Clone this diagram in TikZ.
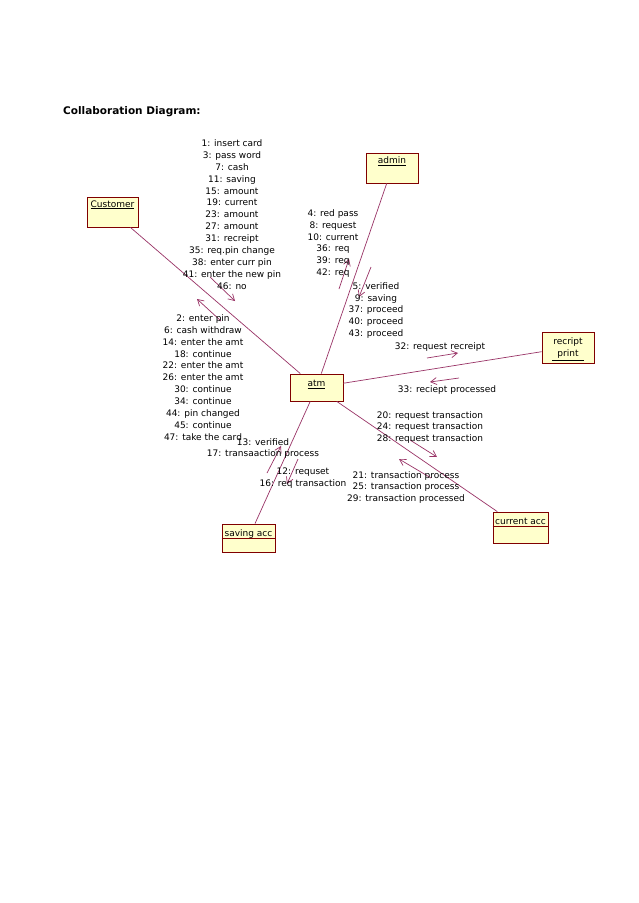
\documentclass[tikz,border=0pt]{standalone}
\usepackage{fontspec}
\setmainfont{DejaVu Sans}
\usepackage{tikz}
\usetikzlibrary{arrows.meta, calc, positioning}
\definecolor{linkred}{HTML}{993366}
\definecolor{boxred}{HTML}{800000}
\definecolor{boxfill}{HTML}{FFFFCC}
\tikzset{
  obj/.style={draw=boxred, fill=boxfill, line width=0.8pt, inner sep=0pt},
  link/.style={draw=linkred, line width=0.7pt},
  msg/.style={draw=linkred, line width=0.7pt, -{Straight Barb[length=6pt,width=7pt]}},
  msgtext/.style={align=center, inner sep=0pt, font=\fontsize{9}{11.9}\selectfont},
  objtext/.style={anchor=base, inner sep=0pt, font=\fontsize{9}{11}\selectfont}
}

\begin{document}
\begin{tikzpicture}[x=1pt, y=-1pt]
      \fill[white] (0,0) rectangle (638,903);
      \useasboundingbox (0,0) rectangle (638,903);

      % Title
      \node[anchor=base west, inner sep=0pt, font=\fontsize{10.5}{12}\selectfont\bfseries]
        (title) at (63,114) {Collaboration Diagram:};

      % Objects
      \node[obj, minimum width=51pt, minimum height=30pt] (cust) at (112.5,212) {};
      \node[obj, minimum width=52pt, minimum height=30pt] (admin) at (392,168) {};
      \node[obj, minimum width=53pt, minimum height=27pt] (atm) at (316.5,387.5) {};
      \node[obj, minimum width=52pt, minimum height=31pt] (rec) at (568,347.5) {};
      \node[obj, minimum width=55pt, minimum height=31pt] (cur) at (520.5,527.5) {};
      \node[obj, minimum width=53pt, minimum height=28pt] (sav) at (248.5,538) {};

      % Object names
      \node[objtext] (custname) at ([yshift=-10.5pt]cust.north) {\underline{Customer}};
      \node[objtext] (adminname) at ([yshift=-11pt]admin.north) {\underline{admin}};
      \node[objtext] (atmname) at ([yshift=-13pt]atm.north) {\underline{atm}};
      \node[objtext] (recname) at ([yshift=-13pt]rec.north) {recript};
      \node[objtext] (recname2) at ([yshift=-25pt]rec.north) {\underline{\kern5pt print\kern5pt}};
      \node[objtext] (curname) at ([yshift=-13pt]cur.north) {current acc};
      \node[objtext] (savname) at ([yshift=-13pt]sav.north) {saving acc};
      \draw[boxred, line width=0.8pt] ([yshift=-15pt]cur.north west) -- ([yshift=-15pt]cur.north east);
      \draw[boxred, line width=0.8pt] ([yshift=-15pt]sav.north west) -- ([yshift=-15pt]sav.north east);

      % Links
      \draw[link] (cust) -- (atm);
      \draw[link] (admin) -- (atm);
      \draw[link] (atm) -- (rec);
      \draw[link] (atm) -- (cur);
      \draw[link] (atm) -- (sav);

      % Message arrows
      \coordinate (c1a) at (210,277);  \coordinate (c1b) at (235,301);
      \coordinate (c2a) at (221,321);  \coordinate (c2b) at (197,299);
      \coordinate (a1a) at (339,289);  \coordinate (a1b) at (349,259);
      \coordinate (a2a) at (371,267);  \coordinate (a2b) at (359,297);
      \coordinate (r1a) at (427,358);  \coordinate (r1b) at (458,353);
      \coordinate (r2a) at (459,378);  \coordinate (r2b) at (430,382);
      \coordinate (u1a) at (410,440);  \coordinate (u1b) at (437,457);
      \coordinate (u2a) at (431,478);  \coordinate (u2b) at (399,459);
      \coordinate (s1a) at (267,473);  \coordinate (s1b) at (281,446);
      \coordinate (s2a) at (298,459);  \coordinate (s2b) at (287,484);
      \foreach \m in {c1,c2,a1,a2,r1,r2,u1,u2,s1,s2}
        \draw[msg] (\m a) -- (\m b);

      % Message labels
      \node[msgtext] (custmsg) at (232,214.5) {1: insert card\\3: pass word\\7: cash\\11: saving\\
        15: amount\\19: current\\23: amount\\27: amount\\31: recreipt\\35: req.pin change\\
        38: enter curr pin\\41: enter the new pin\\46: no};
      \node[msgtext] (atmcustmsg) at (203,377.5) {2: enter pin\\6: cash withdraw\\14: enter the amt\\
        18: continue\\22: enter the amt\\26: enter the amt\\30: continue\\34: continue\\
        44: pin changed\\45: continue\\47: take the card};
      \node[msgtext] (adminmsg) at (333,243.5) {4: red pass\\8: request\\10: current\\36: req\\39: req\\42: req};
      \node[msgtext] (atmadminmsg) at (376,310.5) {5: verified\\9: saving\\37: proceed\\40: proceed\\43: proceed};
      \node[msgtext] (recmsg) at (440,347.5) {32: request recreipt};
      \node[msgtext] (atmrecmsg) at (447,390.5) {33: reciept processed};
      \node[msgtext] (curmsg) at (430,427.5) {20: request transaction\\24: request transaction\\28: request transaction};
      \node[msgtext] (atmcurmsg) at (406,487.5) {21: transaction process\\25: transaction process\\29: transaction processed};
      \node[msgtext] (atmsavmsg) at (263,448.5) {13: verified\\17: transaaction process};
      \node[msgtext] (savmsg) at (303,478.5) {12: requset\\16: req transaction};
    \end{tikzpicture}
\end{document}
